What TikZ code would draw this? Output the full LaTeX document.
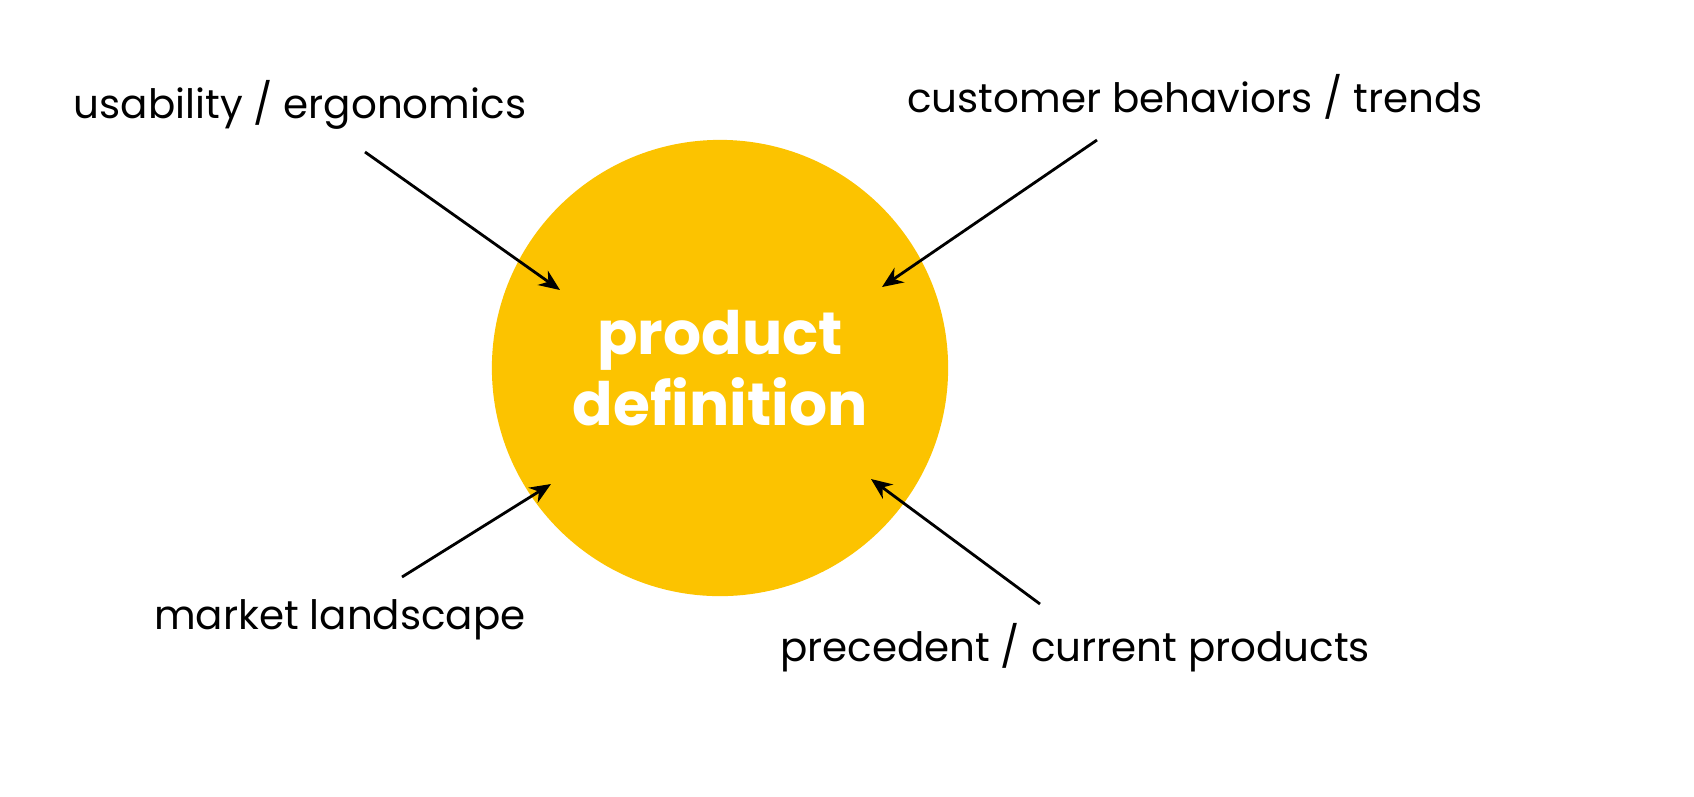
\documentclass[tikz,border=0pt]{standalone}
\usepackage{fontspec}
\setmainfont{Poppins}
\usetikzlibrary{arrows.meta}

\definecolor{gold}{RGB}{252,195,0}

\begin{document}
\begin{tikzpicture}[x=0.01cm,y=-0.01cm,
    factor/.style = {font=\fontsize{11.5}{14}\selectfont, inner sep=0pt},
    core/.style = {circle, fill=gold, minimum size=4.56cm, inner sep=0pt,
        text=white, align=center, font=\bfseries\fontsize{17}{20}\selectfont},
    feed/.style = {-{Stealth[length=6pt,width=5pt]}, line width=0.8pt}]
    \useasboundingbox (0,0) rectangle (1694,796);

    % Nodes
    \node[core] (def) at (720,368) {product\\definition};
    \node[factor] (usab) at (300,105) {usability / ergonomics};
    \node[factor] (cust) at (1195,97) {customer behaviors / trends};
    \node[factor] (mark) at (340,620) {market landscape};
    \node[factor] (prec) at (1075,648) {precedent / current products};

    % Arrow ends
    \coordinate (u1) at (365,152);  \coordinate (u2) at (560,290);
    \coordinate (c1) at (1097,140); \coordinate (c2) at (882,287);
    \coordinate (m1) at (402,577);  \coordinate (m2) at (551,484);
    \coordinate (p1) at (1040,604); \coordinate (p2) at (871,479);

    % Edges
    \draw[feed] (u1) -- (u2);
    \draw[feed] (c1) -- (c2);
    \draw[feed] (m1) -- (m2);
    \draw[feed] (p1) -- (p2);

\end{tikzpicture}
\end{document}
